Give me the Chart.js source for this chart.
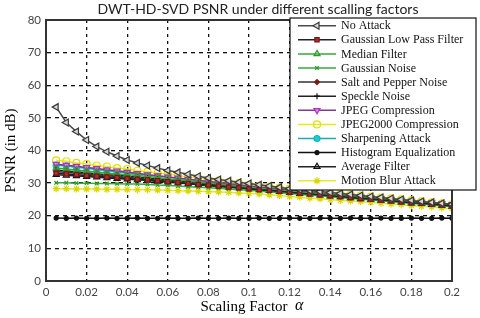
<!DOCTYPE html>
<html>
<head>
<meta charset="utf-8">
<script src="https://cdn.jsdelivr.net/npm/chart.js@4.4.1/dist/chart.umd.min.js"></script>
<style>
  body { margin: 0; background: #fff; }
  #wrap { width: 480px; height: 318px; }
</style>
</head>
<body>
<div id="wrap"><canvas id="psnrChart" width="480" height="318"></canvas></div>
<script>
// scaling factors 0.005 .. 0.2
const alphas = [0.005, 0.01, 0.015, 0.02, 0.025, 0.03, 0.035, 0.04, 0.045, 0.05,
    0.055, 0.06, 0.065, 0.07, 0.075, 0.08, 0.085, 0.09, 0.095, 0.1,
    0.105, 0.11, 0.115, 0.12, 0.125, 0.13, 0.135, 0.14, 0.145, 0.15,
    0.155, 0.16, 0.165, 0.17, 0.175, 0.18, 0.185, 0.19, 0.195, 0.2];

const xTicks = [0, 0.02, 0.04, 0.06, 0.08, 0.1, 0.12, 0.14, 0.16, 0.18, 0.2];
const yTicks = [0, 10, 20, 30, 40, 50, 60, 70, 80];

const attacks = ['No Attack', 'Gaussian Low Pass Filter', 'Median Filter', 'Gaussian Noise',
    'Salt and Pepper Noise', 'Speckle Noise', 'JPEG Compression', 'JPEG2000 Compression',
    'Sharpening Attack', 'Histogram Equalization', 'Average Filter', 'Motion Blur Attack'];

const noAttack = [53.3, 48.6, 45.8, 43.2, 41.2, 39.6, 38.3, 37.1, 36.2, 35.4,
    34.6, 33.9, 33.3, 32.7, 32.1, 31.6, 31.1, 30.7, 30.3, 29.9,
    29.5, 29.1, 28.7, 28.3, 28.0, 27.7, 27.4, 27.1, 26.8, 26.5,
    26.2, 25.9, 25.6, 25.3, 25.0, 24.7, 24.4, 24.1, 23.8, 23.5];
const gaussLowPass = [33.0, 32.8, 32.6, 32.3, 32.1, 31.9, 31.7, 31.4, 31.2, 31.0,
    30.7, 30.4, 30.2, 29.9, 29.6, 29.4, 29.1, 28.8, 28.6, 28.3,
    28.0, 27.8, 27.5, 27.2, 26.9, 26.7, 26.4, 26.1, 25.9, 25.6,
    25.3, 25.1, 24.8, 24.6, 24.3, 24.0, 23.8, 23.5, 23.3, 23.0];
const medianFilter = [34.6, 34.3, 34.0, 33.7, 33.4, 33.1, 32.8, 32.6, 32.3, 32.0,
    31.7, 31.3, 31.0, 30.7, 30.3, 30.0, 29.7, 29.3, 29.0, 28.7,
    28.4, 28.1, 27.8, 27.5, 27.2, 27.0, 26.7, 26.4, 26.1, 25.8,
    25.5, 25.3, 25.0, 24.7, 24.5, 24.2, 23.9, 23.7, 23.4, 23.2];
const gaussNoise = [30.1, 30.1, 30.0, 30.0, 29.9, 29.9, 29.8, 29.7, 29.7, 29.6,
    29.4, 29.3, 29.1, 28.9, 28.7, 28.6, 28.4, 28.2, 28.0, 27.8,
    27.6, 27.3, 27.1, 26.8, 26.6, 26.3, 26.1, 25.8, 25.6, 25.3,
    25.1, 24.8, 24.6, 24.3, 24.1, 23.8, 23.6, 23.3, 23.1, 22.8];
const saltPepper = [33.5, 33.3, 33.0, 32.8, 32.5, 32.3, 32.0, 31.8, 31.5, 31.3,
    31.0, 30.7, 30.4, 30.2, 29.9, 29.6, 29.3, 29.1, 28.8, 28.5,
    28.2, 27.9, 27.6, 27.4, 27.1, 26.8, 26.5, 26.2, 26.0, 25.7,
    25.4, 25.2, 24.9, 24.7, 24.4, 24.1, 23.9, 23.6, 23.4, 23.1];
const speckle = [34.0, 33.7, 33.5, 33.2, 32.9, 32.6, 32.4, 32.1, 31.8, 31.6,
    31.3, 31.0, 30.7, 30.4, 30.1, 29.8, 29.5, 29.2, 28.9, 28.6,
    28.3, 28.0, 27.8, 27.5, 27.2, 26.9, 26.6, 26.4, 26.1, 25.8,
    25.5, 25.3, 25.0, 24.8, 24.5, 24.2, 24.0, 23.7, 23.5, 23.2];
const jpeg = [35.8, 35.5, 35.2, 34.8, 34.5, 34.1, 33.8, 33.4, 33.0, 32.6,
    32.3, 31.9, 31.6, 31.2, 30.9, 30.5, 30.2, 29.8, 29.5, 29.1,
    28.8, 28.5, 28.2, 27.9, 27.6, 27.3, 27.0, 26.7, 26.4, 26.1,
    25.8, 25.6, 25.3, 25.0, 24.8, 24.5, 24.2, 24.0, 23.7, 23.5];
const jpeg2000 = [37.0, 36.7, 36.2, 35.9, 35.4, 35.1, 34.6, 34.3, 33.8, 33.5,
    33.1, 32.8, 32.3, 31.9, 31.6, 31.1, 30.8, 30.3, 30.0, 29.5,
    29.2, 28.9, 28.6, 28.3, 28.0, 27.7, 27.4, 27.1, 26.8, 26.5,
    26.2, 25.9, 25.6, 25.3, 25.0, 24.7, 24.4, 24.1, 23.8, 23.5];
const sharpening = [35.5, 35.3, 34.8, 34.6, 34.1, 33.9, 33.4, 33.2, 32.7, 32.5,
    32.1, 31.9, 31.4, 31.2, 30.7, 30.5, 30.0, 29.8, 29.3, 29.0,
    28.8, 28.4, 28.2, 27.8, 27.6, 27.2, 27.0, 26.6, 26.4, 26.0,
    25.8, 25.4, 25.3, 24.9, 24.7, 24.3, 24.1, 23.8, 23.6, 23.3];
const histEq = [19.3, 19.2, 19.3, 19.2, 19.2, 19.3, 19.2, 19.2, 19.3, 19.2,
    19.2, 19.3, 19.2, 19.2, 19.3, 19.2, 19.2, 19.3, 19.2, 19.2,
    19.3, 19.2, 19.2, 19.3, 19.2, 19.2, 19.3, 19.2, 19.2, 19.3,
    19.2, 19.2, 19.3, 19.2, 19.2, 19.3, 19.2, 19.2, 19.3, 19.2];
const averageFilter = [32.6, 32.4, 32.2, 32.0, 31.8, 31.6, 31.4, 31.2, 31.0, 30.8,
    30.5, 30.3, 30.0, 29.8, 29.5, 29.2, 29.0, 28.7, 28.5, 28.2,
    27.9, 27.7, 27.4, 27.1, 26.8, 26.6, 26.3, 26.0, 25.8, 25.5,
    25.2, 25.0, 24.7, 24.5, 24.2, 23.9, 23.7, 23.4, 23.2, 22.9];
const motionBlur = [28.3, 28.3, 28.2, 28.2, 28.2, 28.1, 28.1, 28.0, 28.0, 28.0,
    27.9, 27.8, 27.7, 27.6, 27.5, 27.4, 27.3, 27.2, 27.0, 26.9,
    26.7, 26.4, 26.2, 25.9, 25.7, 25.4, 25.2, 25.0, 24.7, 24.5,
    24.3, 24.1, 23.8, 23.6, 23.4, 23.1, 22.9, 22.7, 22.4, 22.2];

const seriesValues = [noAttack, gaussLowPass, medianFilter, gaussNoise, saltPepper, speckle,
    jpeg, jpeg2000, sharpening, histEq, averageFilter, motionBlur];

// line colour, marker colour, marker fill, marker style, radius, rotation
const styles = [
    { line: '#4a4a4a', mark: '#3a3a3a', fill: '#d8d8d8', shape: 'triangle', r: 4, rot: -90 },
    { line: '#222222', mark: '#7a1414', fill: '#a83030', shape: 'rect', r: 3, rot: 0 },
    { line: '#38a838', mark: '#2f9a2f', fill: 'rgba(0,0,0,0)', shape: 'triangle', r: 3.5, rot: 0 },
    { line: '#3aa83a', mark: '#2a9a2a', fill: '#2a9a2a', shape: 'crossRot', r: 2.5, rot: 0 },
    { line: '#333333', mark: '#7a1a1a', fill: '#7a1a1a', shape: 'rectRot', r: 2.5, rot: 0 },
    { line: '#222222', mark: '#111111', fill: '#111111', shape: 'cross', r: 3, rot: 0 },
    { line: '#7a3c90', mark: '#b030c0', fill: '#d890e0', shape: 'triangle', r: 3.5, rot: 180 },
    { line: '#e8e820', mark: '#e0e000', fill: 'rgba(0,0,0,0)', shape: 'circle', r: 3.5, rot: 0 },
    { line: '#20a8b0', mark: '#10b8c0', fill: '#20c8d0', shape: 'circle', r: 3, rot: 0 },
    { line: '#111111', mark: '#111111', fill: '#111111', shape: 'circle', r: 2, rot: 0 },
    { line: '#222222', mark: '#111111', fill: 'rgba(0,0,0,0)', shape: 'triangle', r: 3.5, rot: 0 },
    { line: '#e8e830', mark: '#d8d800', fill: '#f0f040', shape: 'star', r: 3.5, rot: 0 }
];

const datasets = attacks.map((name, i) => ({
    label: name,
    data: alphas.map((a, k) => ({ x: a, y: seriesValues[i][k] })),
    borderColor: styles[i].line,
    borderWidth: 1.5,
    pointStyle: styles[i].shape,
    pointRadius: styles[i].r,
    pointRotation: styles[i].rot,
    pointBorderColor: styles[i].mark,
    pointBackgroundColor: styles[i].fill,
    pointBorderWidth: 1.2,
    tension: 0,
    fill: false
}));

// frame, title, x label with italic alpha, and the boxed legend
const decorations = {
    id: 'decorations',
    afterDraw(chart) {
        const ctx = chart.ctx;
        const a = chart.chartArea;
        ctx.save();
        ctx.strokeStyle = '#333';
        ctx.lineWidth = 2;
        ctx.strokeRect(a.left, a.top, a.right - a.left, a.bottom - a.top);

        ctx.fillStyle = '#222';
        ctx.font = '14px Lato';
        ctx.textAlign = 'center';
        ctx.textBaseline = 'middle';
        ctx.fillText('DWT-HD-SVD PSNR under different scalling factors', 258, 9);

        ctx.font = '15px "Liberation Serif"';
        ctx.textAlign = 'left';
        ctx.fillStyle = '#000';
        const part = 'Scaling Factor  ';
        const w1 = ctx.measureText(part).width;
        ctx.font = 'italic 16px "Liberation Serif"';
        const w2 = ctx.measureText('\u03b1').width;
        const sx = 252 - (w1 + w2) / 2;
        ctx.font = '15px "Liberation Serif"';
        ctx.fillText(part, sx, 307);
        ctx.font = 'italic 16px "Liberation Serif"';
        ctx.fillText('\u03b1', sx + w1, 306);

        // legend box
        const bx = 290, by = 18, bw = 186, bh = 172;
        ctx.fillStyle = '#fff';
        ctx.fillRect(bx, by, bw, bh);
        ctx.strokeStyle = '#111';
        ctx.lineWidth = 1.2;
        ctx.strokeRect(bx, by, bw, bh);
        ctx.font = '12px "Liberation Serif"';
        ctx.textBaseline = 'middle';
        chart.data.datasets.forEach((ds, i) => {
            const y = 25.7 + i * 14.1;
            ctx.strokeStyle = ds.borderColor;
            ctx.lineWidth = 1.5;
            ctx.beginPath();
            ctx.moveTo(298, y);
            ctx.lineTo(336, y);
            ctx.stroke();
            ctx.strokeStyle = ds.pointBorderColor;
            ctx.fillStyle = ds.pointBackgroundColor;
            ctx.lineWidth = 1.2;
            Chart.helpers.drawPoint(ctx, {
                pointStyle: ds.pointStyle,
                radius: ds.pointRadius,
                rotation: ds.pointRotation,
                borderWidth: 1.2
            }, 317, y);
            ctx.fillStyle = '#111';
            ctx.fillText(ds.label, 341, y + 0.5);
        });
        ctx.restore();
    }
};

const dashedGrid = {
    color: '#111',
    lineWidth: 1.3,
    drawTicks: false
};

new Chart(document.getElementById('psnrChart'), {
    type: 'line',
    data: { datasets: datasets },
    options: {
        responsive: false,
        animation: false,
        devicePixelRatio: 1,
        layout: { padding: { top: 20, right: 28, left: 0, bottom: 0 } },
        plugins: {
            legend: { display: false },
            title: { display: false },
            tooltip: { enabled: false }
        },
        scales: {
            x: {
                type: 'linear',
                min: xTicks[0],
                max: xTicks[xTicks.length - 1],
                afterBuildTicks: s => { s.ticks = xTicks.map(v => ({ value: v })); },
                afterFit: s => { s.height = 37; },
                grid: dashedGrid,
                border: { display: true, color: '#333', width: 2, dash: [3, 4] },
                ticks: {
                    padding: 4,
                    color: '#444',
                    font: { family: 'Lato', size: 11.5 },
                    callback: v => String(+v.toFixed(2))
                }
            },
            y: {
                min: yTicks[0],
                max: yTicks[yTicks.length - 1],
                afterBuildTicks: s => { s.ticks = yTicks.map(v => ({ value: v })); },
                afterFit: s => { s.width = 46; },
                grid: dashedGrid,
                border: { display: true, color: '#333', width: 2, dash: [4, 4] },
                title: {
                    display: true,
                    text: 'PSNR (in dB)',
                    color: '#000',
                    font: { family: 'Liberation Serif', size: 15 },
                    padding: { top: 2, bottom: 0 }
                },
                ticks: {
                    padding: 5,
                    color: '#444',
                    font: { family: 'Lato', size: 11.5 }
                }
            }
        }
    },
    plugins: [decorations]
});
</script>
</body>
</html>
